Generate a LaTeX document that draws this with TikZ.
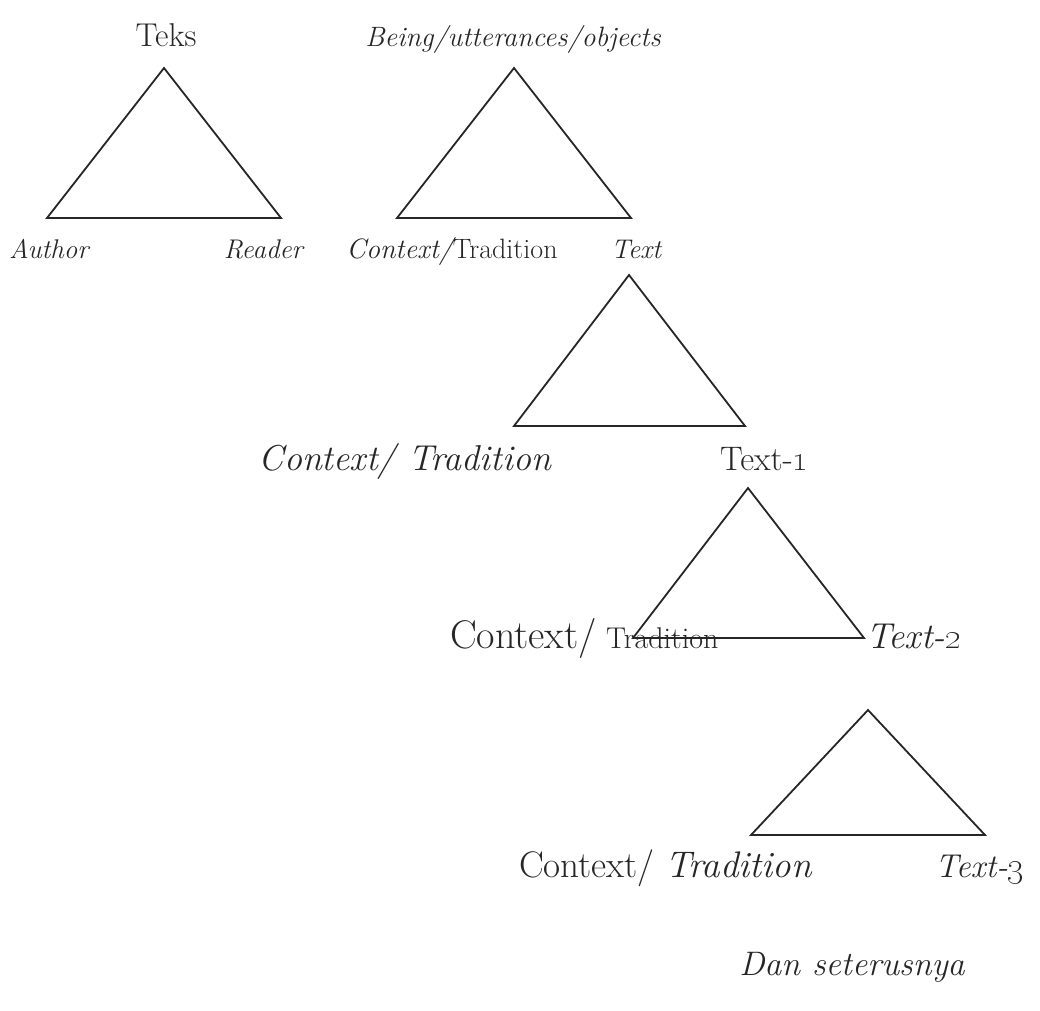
\documentclass[tikz,border=0pt]{standalone}
\usepackage{tikz}
\begin{document}
\begin{tikzpicture}[x=1pt,y=-1pt,
  tri/.style={draw=black!85, line width=1.8pt, line join=miter},
  lbl/.style={inner sep=0pt, text=black!85},
  f27/.style={font=\fontsize{27}{31}\selectfont},
  f36/.style={font=\fontsize{36}{40}\selectfont}]
\useasboundingbox (0,0) rectangle (1040,1010);
% triangle vertices
\coordinate (a1) at (164,68);  \coordinate (l1) at (47,218);  \coordinate (r1) at (281,218);
\coordinate (a2) at (514,68);  \coordinate (l2) at (397,218); \coordinate (r2) at (631,218);
\coordinate (a3) at (629,275); \coordinate (l3) at (514,426); \coordinate (r3) at (745,426);
\coordinate (a4) at (748,488); \coordinate (l4) at (633,638); \coordinate (r4) at (864,638);
\coordinate (a5) at (868,710); \coordinate (l5) at (751,835); \coordinate (r5) at (985,835);
\draw[tri] (a1) -- (r1) -- (l1) -- cycle;
\draw[tri] (a2) -- (r2) -- (l2) -- cycle;
\draw[tri] (a3) -- (r3) -- (l3) -- cycle;
\draw[tri] (a4) -- (r4) -- (l4) -- cycle;
\draw[tri] (a5) -- (r5) -- (l5) -- cycle;
% top labels
\node[lbl,anchor=base] (teks) at (166,46) {\fontsize{33}{37}\selectfont Teks};
\node[lbl,anchor=base] (being) at (513,46) {\fontsize{28}{32}\selectfont\itshape Being/utterances/objects};
% row 1
\node[lbl,f27,anchor=base west] (author) at (9,258) {\itshape Author};
\node[lbl,f27,anchor=base east] (reader) at (303,258) {\itshape Reader};
\node[lbl,anchor=base] (ct1) at (452,258) {\fontsize{28}{32}\selectfont\itshape Context/\upshape Tradition};
\node[lbl,f27,anchor=base west] (text0) at (611,258) {\itshape Text};
% row 3
\node[lbl,f36,anchor=base] (ct2) at (405,470) {\itshape Context/ Tradition};
\node[lbl,anchor=base west] (text1) at (720,470) {\fontsize{34}{38}\selectfont Text-\oldstylenums{1}};
% row 4
\node[lbl,anchor=base east] (ct3a) at (597,648) {\fontsize{40}{44}\selectfont Context/};
\node[lbl,anchor=base west] (ct3b) at (606,648) {\fontsize{30}{34}\selectfont Tradition};
\node[lbl,f36,anchor=base west] (text2) at (866,648) {\itshape Text-\oldstylenums{2}};
% row 5
\node[lbl,anchor=base east] (ct4a) at (655,877) {\fontsize{37}{40}\selectfont Context/};
\node[lbl,anchor=base west] (ct4b) at (665,877) {\fontsize{37}{40}\selectfont\itshape Tradition};
\node[lbl,anchor=base west] (text3) at (935,877) {\fontsize{33}{36}\selectfont\itshape Text-\oldstylenums{3}};
% last
\node[lbl,anchor=base] (dan) at (852,975) {\fontsize{34}{38}\selectfont\itshape Dan seterusnya};
\end{tikzpicture}
\end{document}
